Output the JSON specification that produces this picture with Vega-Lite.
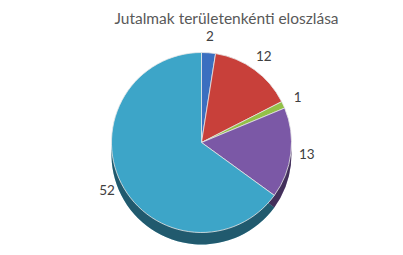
{
  "$schema": "https://vega.github.io/schema/vega-lite/v6.json",
  "width": 403,
  "height": 255,
  "autosize": {"type": "fit", "contains": "padding"},
  "padding": {"top": 14, "left": 5, "right": 5, "bottom": 2},
  "background": "#ffffff",
  "title": {"text": "Jutalmak területenkénti eloszlása", "font": "Lato", "fontSize": 15.5, "fontWeight": "normal", "color": "#595959", "offset": 2, "dx": 25},
  "view": {"stroke": null},
  "data": {
    "values": [
      {"terulet": "A", "ertek": 2, "rend": 1},
      {"terulet": "B", "ertek": 12, "rend": 2},
      {"terulet": "C", "ertek": 1, "rend": 3},
      {"terulet": "D", "ertek": 13, "rend": 4},
      {"terulet": "E", "ertek": 52, "rend": 5}
    ]
  },
  "encoding": {
    "theta": {"field": "ertek", "type": "quantitative", "stack": true},
    "order": {"field": "rend", "type": "quantitative"},
    "color": {
      "field": "terulet",
      "type": "nominal",
      "scale": {"domain": ["A", "B", "C", "D", "E"], "range": ["#3B6FC0", "#C8403A", "#93C047", "#7B58A6", "#3DA5C8"]},
      "legend": null
    }
  },
  "layer": [
    {"mark": {"type": "arc", "outerRadius": 90, "yOffset": 12}},
    {"mark": {"type": "arc", "outerRadius": 90, "yOffset": 12, "opacity": 0.45}, "encoding": {"color": {"value": "#000000"}}},
    {"mark": {"type": "arc", "outerRadius": 90, "stroke": "#e8e8e8", "strokeWidth": 0.8}},
    {
      "mark": {"type": "text", "radius": 106, "font": "Lato", "fontSize": 13.5},
      "encoding": {"text": {"field": "ertek", "type": "quantitative"}, "color": {"value": "#404040"}}
    }
  ]
}
